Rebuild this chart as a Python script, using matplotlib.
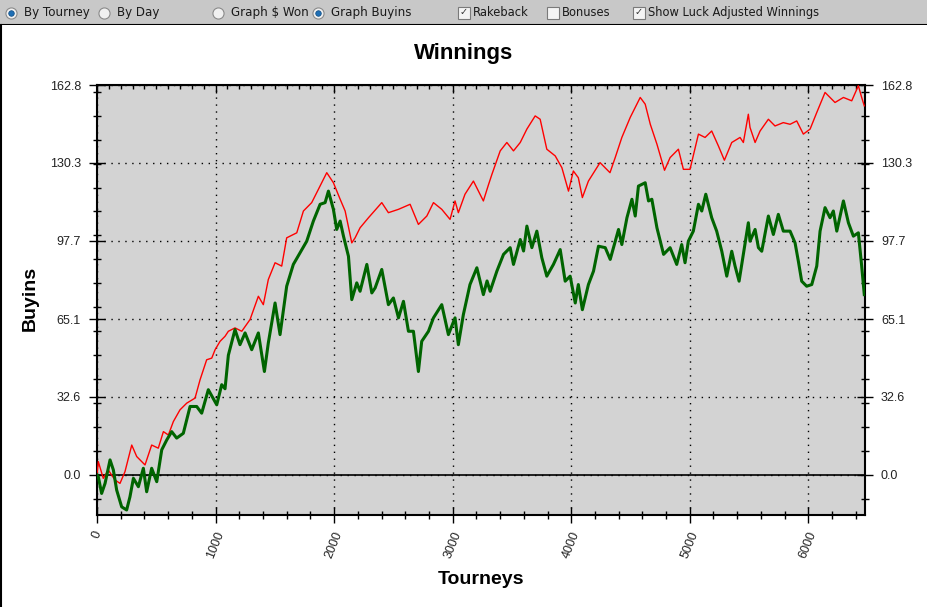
import numpy as np
import matplotlib
matplotlib.use("Agg")
import matplotlib.pyplot as plt
from matplotlib.ticker import MultipleLocator, FixedLocator, NullFormatter

# values (tourney number, buyins)
red_t = [0, 11, 53, 95, 152, 194, 236, 293, 335, 405, 461, 517, 560, 602, 644, 700,
         757, 827, 869, 925, 968, 996, 1038, 1080, 1108, 1164, 1221, 1291, 1361, 1403,
         1445, 1502, 1558, 1600, 1685, 1741, 1811, 1867, 1938, 1994, 2051, 2093, 2149,
         2177, 2219, 2290, 2402, 2458, 2543, 2641, 2711, 2782, 2838, 2908, 2978, 3020,
         3048, 3104, 3175, 3259, 3301, 3331, 3401, 3457, 3513, 3570, 3626, 3696, 3738,
         3794, 3865, 3921, 3977, 4018, 4060, 4094, 4145, 4243, 4327, 4371, 4427, 4498,
         4582, 4624, 4667, 4723, 4787, 4834, 4904, 4946, 5002, 5073, 5129, 5185, 5241,
         5292, 5354, 5424, 5452, 5494, 5508, 5551, 5593, 5663, 5719, 5789, 5846, 5902,
         5958, 6015, 6071, 6141, 6225, 6296, 6366, 6422, 6450, 6472]
red_v = [0, 5.6, -1.4, 2.1, -2.1, -3.5, 1.4, 12.5, 7.7, 4.2, 12.5, 11.2, 18.1, 16.7, 22.3, 27.2,
         30.0, 32.1, 39.7, 48.1, 48.8, 52.3, 55.8, 57.9, 60.0, 61.4, 60.0, 64.9, 74.6, 71.1,
         81.6, 88.6, 87.2, 99.0, 101.1, 110.2, 113.7, 119.2, 126.2, 122.0, 115.1, 110.2, 96.9,
         99.0, 103.2, 107.4, 113.7, 109.5, 110.9, 113.0, 104.6, 108.1, 113.7, 110.9, 106.7, 114.4,
         109.5, 117.2, 122.7, 114.4, 121.0, 125.5, 135.3, 138.8, 135.3, 138.8, 144.4, 149.9, 148.5,
         136.0, 133.2, 128.3, 118.5, 126.9, 124.1, 115.8, 122.7, 130.4, 126.2, 132.5, 140.9, 149.3,
         157.6, 154.8, 146.4, 138.1, 127.2, 132.5, 136.0, 127.6, 127.6, 142.3, 140.9, 143.6, 137.4,
         131.4, 138.8, 140.9, 138.8, 150.6, 145.1, 138.8, 143.6, 148.5, 145.7, 147.1, 146.4, 147.8,
         142.3, 144.4, 151.3, 159.7, 155.5, 157.6, 156.2, 162.5, 157.6, 154.1]

green_t = [0, 11, 39, 68, 110, 138, 166, 208, 250, 278, 307, 349, 391, 419, 461, 504, 546,
           588, 630, 672, 728, 785, 841, 883, 939, 1010, 1052, 1080, 1108, 1164, 1206, 1249,
           1305, 1361, 1412, 1445, 1502, 1544, 1600, 1656, 1713, 1769, 1825, 1882, 1924, 1952,
           1994, 2022, 2051, 2079, 2121, 2149, 2191, 2219, 2276, 2318, 2346, 2402, 2458, 2500,
           2543, 2585, 2627, 2669, 2711, 2739, 2796, 2838, 2908, 2964, 3020, 3048, 3090, 3146,
           3204, 3259, 3290, 3316, 3373, 3429, 3485, 3513, 3570, 3598, 3626, 3668, 3710, 3752,
           3794, 3850, 3907, 3949, 3991, 4034, 4060, 4094, 4145, 4188, 4230, 4287, 4329, 4371,
           4399, 4427, 4470, 4512, 4540, 4567, 4624, 4652, 4680, 4723, 4779, 4834, 4890, 4932,
           4960, 4988, 5030, 5073, 5101, 5135, 5185, 5227, 5270, 5312, 5354, 5382, 5416, 5452,
           5494, 5508, 5551, 5579, 5607, 5663, 5705, 5747, 5789, 5846, 5888, 5916, 5944, 5986,
           6029, 6071, 6099, 6141, 6183, 6211, 6240, 6296, 6338, 6380, 6422, 6450, 6472]
green_v = [0, -0.7, -7.7, -3.5, 6.3, 2.1, -6.3, -13.3, -14.6, -9.1, -1.4, -4.9, 2.8, -7.0, 2.8, -2.8, 10.5,
           14.6, 18.1, 15.4, 17.4, 28.6, 28.6, 25.8, 35.6, 29.3, 37.7, 36.0, 50.0, 60.7, 54.4, 59.3,
           52.3, 59.3, 43.2, 55.1, 71.8, 58.6, 78.8, 87.9, 92.8, 97.6, 106.0, 113.0, 113.7, 118.5,
           110.9, 102.5, 106.0, 99.7, 91.3, 73.2, 80.2, 76.7, 87.9, 76.0, 78.1, 85.8, 71.1, 73.9,
           65.6, 72.5, 60.0, 60.0, 43.2, 55.8, 60.0, 65.6, 71.1, 58.6, 65.6, 54.4, 66.9, 79.5,
           86.5, 75.3, 81.0, 76.7, 85.1, 92.1, 94.9, 87.9, 98.3, 93.5, 103.9, 94.9, 101.8, 90.7,
           83.0, 87.9, 94.1, 80.9, 83.0, 71.8, 79.5, 69.0, 79.5, 85.1, 95.5, 94.9, 90.0, 97.6,
           102.5, 96.2, 107.4, 115.1, 108.1, 120.6, 122.0, 114.4, 115.1, 103.2, 92.1, 94.9, 87.9, 96.2,
           88.6, 97.6, 101.8, 113.0, 110.2, 117.2, 107.4, 101.8, 93.4, 83.0, 93.4, 87.2, 80.9, 92.1,
           105.3, 97.6, 102.5, 94.9, 93.4, 108.1, 100.4, 108.8, 101.8, 101.8, 96.9, 89.2, 80.9, 78.8,
           79.5, 87.2, 101.8, 111.6, 107.4, 110.2, 101.8, 114.4, 105.3, 99.7, 101.1, 87.2, 75.3]

y_ticks = [0.0, 32.6, 65.1, 97.7, 130.3, 162.8]
x_ticks = [0, 1000, 2000, 3000, 4000, 5000, 6000]

W, H = 927, 607
fig = plt.figure(figsize=(W / 100, H / 100), dpi=100)
fig.patch.set_facecolor("white")

# toolbar strip at the top
tb = fig.add_axes([0, 1 - 25 / H, 1, 25 / H])
tb.set_xlim(0, W)
tb.set_ylim(25, 0)
tb.axis("off")
tb.add_patch(plt.Rectangle((0, 0), W, 25, color="#c8c8c8", zorder=0))
tb.plot([0, W], [24.5, 24.5], color="black", lw=1.5)

radios = [(11, "By Tourney", True), (104, "By Day", False),
          (218, "Graph $ Won", False), (318, "Graph Buyins", True)]
for x, label, on in radios:
    tb.plot(x, 12.5, "o", ms=8, mfc="#f0f0f0", mec="#8a8a8a", mew=0.8)
    if on:
        tb.plot(x, 12.5, "o", ms=4, mfc="#1f6fb5", mec="#0d4a80", mew=0.5)
    tb.text(x + 13, 12.5, label, fontsize=8.6, va="center", color="#1a1a1a",
            family="DejaVu Sans")

checks = [(464, "Rakeback", True), (553, "Bonuses", False),
          (639, "Show Luck Adjusted Winnings", True)]
for x, label, on in checks:
    tb.plot(x, 12.5, "s", ms=8, mfc="#f4f4f4", mec="#7a7a7a", mew=0.8)
    if on:
        tb.text(x, 12.5, "\u2713", fontsize=7, ha="center", va="center", color="#333333")
    tb.text(x + 9, 12.5, label, fontsize=8.3, va="center", color="#1a1a1a",
            family="DejaVu Sans")

# left border of the white panel
fig.add_artist(plt.Line2D([0.001, 0.001], [0, 1 - 25 / H], color="black", lw=1.5))

ax = fig.add_axes([97 / W, 1 - 515 / H, (865 - 97) / W, (515 - 85) / H])
ax.set_facecolor("#d3d3d3")

ax.plot(red_t, red_v, color="#ff0000", lw=1.0, zorder=3)
ax.plot(green_t, green_v, color="#006400", lw=2.2, zorder=4)
ax.axhline(0, color="black", lw=1.2, zorder=2)

ax.set_xlim(0, 6478)
ax.set_ylim(-16.7, 162.8)

ax.yaxis.set_major_locator(FixedLocator(y_ticks))
ax.set_yticklabels([f"{v:.1f}" for v in y_ticks])
ax.yaxis.set_minor_locator(MultipleLocator(10))
ax.xaxis.set_major_locator(FixedLocator(x_ticks))
ax.set_xticklabels([str(v) for v in x_ticks], rotation=68, ha="center", va="top")
ax.xaxis.set_minor_locator(MultipleLocator(200))

ax.tick_params(axis="y", which="both", left=True, right=True, labelleft=True,
               labelright=True, direction="inout", labelsize=9, pad=6)
ax.tick_params(axis="y", which="major", length=11, width=1)
ax.tick_params(axis="y", which="minor", length=6, width=1)
ax.tick_params(axis="x", which="both", direction="inout", labelsize=9, pad=5)
ax.tick_params(axis="x", which="major", length=11, width=1)
ax.tick_params(axis="x", which="minor", length=6, width=1)

# small inward ticks along the top edge
top = ax.secondary_xaxis("top")
top.xaxis.set_major_locator(FixedLocator(x_ticks))
top.xaxis.set_minor_locator(MultipleLocator(100))
top.xaxis.set_major_formatter(NullFormatter())
top.tick_params(which="both", direction="in", width=1)
top.tick_params(which="major", length=6)
top.tick_params(which="minor", length=3)

ax.grid(True, which="major", color="black", linestyle=(0, (1, 4)), lw=1.0)
for s in ax.spines.values():
    s.set_linewidth(1.5)

for lab in ax.get_yticklabels() + ax.get_xticklabels():
    lab.set_family("Liberation Sans")
    lab.set_color("#222222")

fig.text(464 / W, 1 - 54 / H, "Winnings", fontsize=16, fontweight="bold",
         ha="center", va="center", family="Liberation Sans")
fig.text(30 / W, 1 - 298 / H, "Buyins", fontsize=14, fontweight="bold",
         rotation=90, ha="center", va="center", family="Liberation Sans")
fig.text(481 / W, 1 - 580 / H, "Tourneys", fontsize=14, fontweight="bold",
         ha="center", va="center", family="Liberation Sans")

fig.savefig("out.png", dpi=100)
